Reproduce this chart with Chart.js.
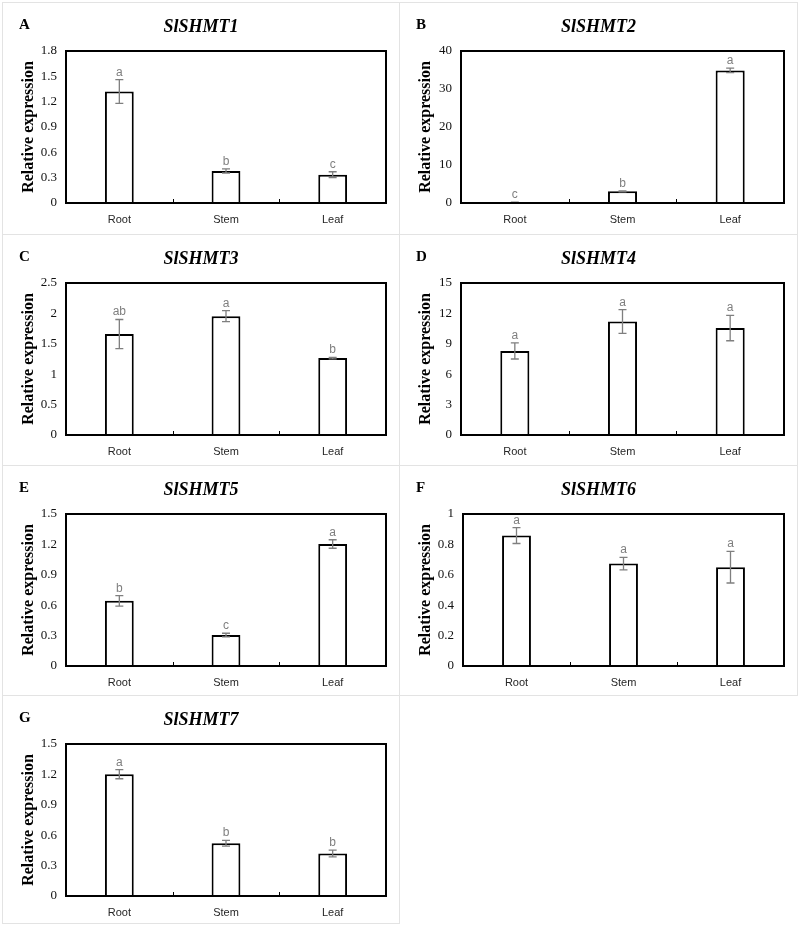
<!DOCTYPE html>
<html>
<head>
<meta charset="utf-8">
<script src="https://cdn.jsdelivr.net/npm/chart.js@4/dist/chart.umd.min.js"></script>
<style>
  html, body { margin: 0; padding: 0; background: #fff; }
  #wrap { position: relative; width: 800px; height: 931px; }
  .panel { position: absolute; box-sizing: border-box; border: 1px solid #e3e3e3; background: #fff; }
  .panel canvas { display: block; }
</style>
</head>
<body>
<div id="wrap"></div>
<script>
// ---------- data ----------
const categories = ['Root', 'Stem', 'Leaf'];
const panelLetters = ['A', 'B', 'C', 'D', 'E', 'F', 'G'];
const geneNames = ['SlSHMT1', 'SlSHMT2', 'SlSHMT3', 'SlSHMT4', 'SlSHMT5', 'SlSHMT6', 'SlSHMT7'];

const slshmt1Mean = [1.32, 0.38, 0.335];
const slshmt1Err  = [0.14, 0.025, 0.035];
const slshmt1Sig  = ['a', 'b', 'c'];

const slshmt2Mean = [0.15, 3.06, 34.9];
const slshmt2Err  = [0.05, 0.12, 0.6];
const slshmt2Sig  = ['c', 'b', 'a'];

const slshmt3Mean = [1.66, 1.955, 1.265];
const slshmt3Err  = [0.24, 0.09, 0.012];
const slshmt3Sig  = ['ab', 'a', 'b'];

const slshmt4Mean = [8.3, 11.2, 10.55];
const slshmt4Err  = [0.8, 1.17, 1.25];
const slshmt4Sig  = ['a', 'a', 'a'];

const slshmt5Mean = [0.643, 0.305, 1.204];
const slshmt5Err  = [0.052, 0.018, 0.042];
const slshmt5Sig  = ['b', 'c', 'a'];

const slshmt6Mean = [0.858, 0.674, 0.65];
const slshmt6Err  = [0.052, 0.041, 0.104];
const slshmt6Sig  = ['a', 'a', 'a'];

const slshmt7Mean = [1.202, 0.521, 0.419];
const slshmt7Err  = [0.045, 0.028, 0.033];
const slshmt7Sig  = ['a', 'b', 'b'];

const yMaxValues = [1.8, 40, 2.5, 15, 1.5, 1, 1.5];
const yStepValues = [0.3, 10, 0.5, 3, 0.3, 0.2, 0.3];

const allMeans = [slshmt1Mean, slshmt2Mean, slshmt3Mean, slshmt4Mean, slshmt5Mean, slshmt6Mean, slshmt7Mean];
const allErrs  = [slshmt1Err, slshmt2Err, slshmt3Err, slshmt4Err, slshmt5Err, slshmt6Err, slshmt7Err];
const allSigs  = [slshmt1Sig, slshmt2Sig, slshmt3Sig, slshmt4Sig, slshmt5Sig, slshmt6Sig, slshmt7Sig];

// ---------- layout ----------
const colEdges = [[2, 399], [399, 797]];
const rowEdges = [[2, 234], [234, 465], [465, 695], [695, 923]];
const yAxisWidths = [63, 61, 63, 61, 63, 63, 63];

const SERIF = '"Liberation Serif", "Times New Roman", serif';
const SANS = '"Liberation Sans", Arial, sans-serif';

const annotPlugin = {
  id: 'annot',
  afterDatasetsDraw(chart, args, opts) {
    const ctx = chart.ctx;
    const ca = chart.chartArea;
    const xs = chart.scales.x, ys = chart.scales.y;
    const meta = chart.getDatasetMeta(0);
    const vals = chart.data.datasets[0].data;
    ctx.save();
    // error bars + significance letters
    meta.data.forEach((bar, i) => {
      const v = vals[i], e = opts.errors[i];
      const yt = ys.getPixelForValue(v + e);
      const yb = ys.getPixelForValue(Math.max(0, v - e));
      const x = bar.x;
      ctx.strokeStyle = '#7f7f7f';
      ctx.lineWidth = 1.3;
      ctx.beginPath();
      ctx.moveTo(x, yt); ctx.lineTo(x, yb);
      ctx.moveTo(x - 4, yt); ctx.lineTo(x + 4, yt);
      ctx.moveTo(x - 4, yb); ctx.lineTo(x + 4, yb);
      ctx.stroke();
      ctx.fillStyle = '#7f7f7f';
      ctx.font = '12px ' + SANS;
      ctx.textAlign = 'center';
      ctx.textBaseline = 'alphabetic';
      ctx.fillText(opts.letters[i], x, yt - 4);
    });
    // plot frame
    ctx.strokeStyle = '#000';
    ctx.lineWidth = 2;
    ctx.strokeRect(ca.left, ca.top, ca.right - ca.left, ca.bottom - ca.top);
    // inward tick marks at category boundaries
    ctx.lineWidth = 1;
    ctx.beginPath();
    for (let i = 0; i < chart.data.labels.length - 1; i++) {
      const x = Math.round((xs.getPixelForValue(i) + xs.getPixelForValue(i + 1)) / 2) + 0.5;
      ctx.moveTo(x, ca.bottom);
      ctx.lineTo(x, ca.bottom - 4);
    }
    ctx.stroke();
    // panel letter
    ctx.fillStyle = '#000';
    ctx.font = 'bold 15px ' + SERIF;
    ctx.textAlign = 'left';
    ctx.textBaseline = 'middle';
    ctx.fillText(opts.panel, 16, 22);
    // gene title, centred on the panel
    ctx.font = 'italic bold 18px ' + SERIF;
    ctx.textAlign = 'center';
    ctx.fillText(opts.title, chart.width / 2, 24);
    ctx.restore();
  }
};

const wrap = document.getElementById('wrap');
for (let k = 0; k < geneNames.length; k++) {
  const col = colEdges[k % 2], row = rowEdges[Math.floor(k / 2)];
  const outerW = col[1] - col[0] + 1, outerH = row[1] - row[0] + 1;
  const div = document.createElement('div');
  div.className = 'panel';
  div.style.left = col[0] + 'px';
  div.style.top = row[0] + 'px';
  div.style.width = outerW + 'px';
  div.style.height = outerH + 'px';
  const cv = document.createElement('canvas');
  const cw = outerW - 2, chh = outerH - 2;
  cv.width = cw; cv.height = chh;
  cv.style.width = cw + 'px'; cv.style.height = chh + 'px';
  div.appendChild(cv);
  wrap.appendChild(div);

  const yw = yAxisWidths[k];
  const xh = chh - 200;

  new Chart(cv.getContext('2d'), {
    type: 'bar',
    data: {
      labels: categories,
      datasets: [{
        data: allMeans[k],
        backgroundColor: '#ffffff',
        borderColor: '#000000',
        borderWidth: 2,
        barPercentage: 0.27,
        categoryPercentage: 1.0
      }]
    },
    options: {
      responsive: false,
      animation: false,
      devicePixelRatio: 1,
      layout: { padding: { left: 0, right: 13, top: 48, bottom: 0 } },
      plugins: {
        legend: { display: false },
        tooltip: { enabled: false },
        title: { display: false },
        annot: { errors: allErrs[k], letters: allSigs[k], panel: panelLetters[k], title: geneNames[k] }
      },
      scales: {
        x: {
          grid: { display: false, drawTicks: false },
          border: { display: false },
          ticks: { color: '#262626', font: { family: SANS, size: 11 }, padding: 10 },
          afterFit: (s) => { s.height = xh; }
        },
        y: {
          min: 0,
          max: yMaxValues[k],
          grid: { display: false, drawTicks: false },
          border: { display: false },
          ticks: {
            stepSize: yStepValues[k],
            color: '#111',
            font: { family: SERIF, size: 13 },
            padding: 9,
            callback: (v) => String(parseFloat(Number(v).toFixed(2)))
          },
          title: {
            display: true,
            text: 'Relative expression',
            color: '#000',
            font: { family: SERIF, size: 16, weight: 'bold', lineHeight: 1.2 },
            padding: { top: 16, bottom: 0 }
          },
          afterFit: (s) => { s.width = yw; }
        }
      }
    },
    plugins: [annotPlugin]
  });
}
</script>
</body>
</html>
